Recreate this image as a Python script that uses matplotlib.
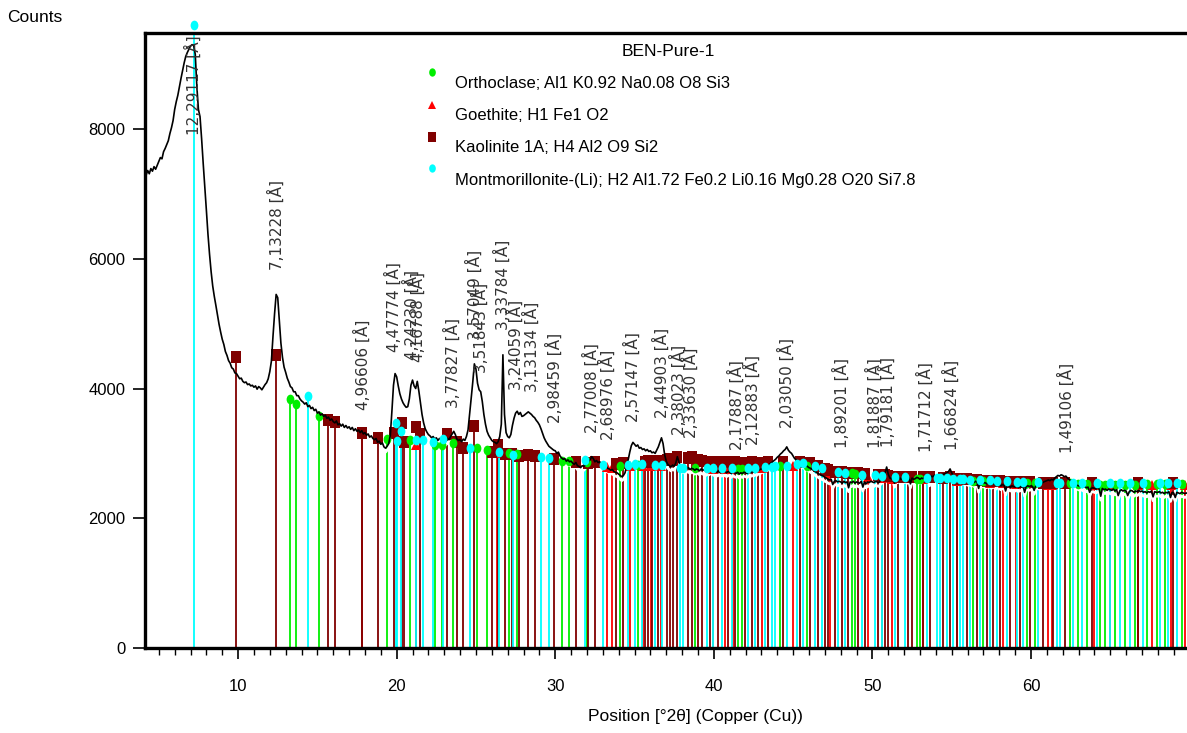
import numpy as np
import matplotlib
matplotlib.use("Agg")
import matplotlib.pyplot as plt
from matplotlib.markers import MarkerStyle
from matplotlib.transforms import Affine2D

UI_FONT = ["Liberation Sans", "DejaVu Sans"]
plt.rcParams["font.family"] = UI_FONT

# ---------------- measured pattern (counts every 0.1 deg, one row per degree, row starts at start_deg) -------------
start_deg = 4
pattern_rows = [
    [7300, 7330, 7290, 7360, 7310, 7390, 7350, 7420, 7380, 7440],
    [7500, 7560, 7540, 7650, 7700, 7760, 7820, 7930, 8020, 8130],
    [8300, 8420, 8520, 8650, 8780, 8900, 9020, 9120, 9180, 9230],
    [9280, 9300, 9290, 9150, 8650, 8300, 8190, 7850, 7470, 7120],
    [6750, 6380, 6070, 5800, 5580, 5420, 5280, 5130, 4990, 4870],
    [4760, 4680, 4570, 4510, 4430, 4390, 4320, 4300, 4240, 4230],
    [4190, 4150, 4160, 4110, 4090, 4100, 4060, 4070, 4040, 4050],
    [4020, 4040, 3990, 4030, 4010, 3980, 4020, 4060, 4090, 4150],
    [4260, 4420, 4800, 5150, 5450, 5400, 5050, 4700, 4480, 4330],
    [4250, 4160, 4100, 4030, 4010, 3950, 3950, 3890, 3890, 3840],
    [3810, 3790, 3760, 3780, 3720, 3740, 3690, 3710, 3660, 3680],
    [3620, 3640, 3590, 3610, 3570, 3590, 3540, 3560, 3510, 3530],
    [3490, 3470, 3500, 3440, 3460, 3420, 3450, 3400, 3430, 3390],
    [3410, 3370, 3400, 3350, 3380, 3340, 3360, 3320, 3350, 3300],
    [3320, 3280, 3300, 3250, 3270, 3230, 3210, 3230, 3170, 3190],
    [3140, 3160, 3100, 3080, 3110, 3150, 3280, 3650, 4050, 4230],
    [4180, 4040, 3920, 3840, 3780, 3740, 3710, 3720, 3840, 4050],
    [4130, 4040, 4000, 4110, 3960, 3780, 3600, 3470, 3380, 3330],
    [3290, 3270, 3240, 3260, 3220, 3240, 3200, 3230, 3210, 3190],
    [3220, 3190, 3230, 3210, 3260, 3300, 3340, 3290, 3220, 3200],
    [3210, 3180, 3220, 3200, 3260, 3360, 3600, 3850, 4100, 4380],
    [4300, 4080, 3980, 3950, 3800, 3600, 3450, 3340, 3280, 3240],
    [3200, 3180, 3170, 3150, 3180, 3260, 3450, 4520, 3600, 3320],
    [3260, 3240, 3290, 3430, 3540, 3620, 3650, 3600, 3630, 3570],
    [3580, 3600, 3620, 3640, 3620, 3600, 3570, 3550, 3510, 3480],
    [3440, 3380, 3310, 3240, 3190, 3150, 3110, 3090, 3070, 3050],
    [3040, 3000, 3020, 2960, 2930, 2910, 2920, 2880, 2900, 2870],
    [2880, 2850, 2830, 2860, 2810, 2800, 2780, 2810, 2800, 2830],
    [2850, 2880, 2900, 2950, 2920, 2870, 2890, 2860, 2870, 2850],
    [2820, 2800, 2810, 2770, 2760, 2740, 2750, 2720, 2710, 2700],
    [2680, 2660, 2640, 2660, 2700, 2800, 2900, 3020, 3120, 3170],
    [3140, 3110, 3130, 3080, 3090, 3060, 3070, 3040, 3060, 3030],
    [3040, 3010, 3020, 3000, 3050, 3100, 3170, 3240, 3150, 2980],
    [2880, 2830, 2810, 2790, 2820, 2800, 2850, 2950, 2870, 2790],
    [2780, 2760, 2790, 2770, 2780, 2750, 2770, 2760, 2740, 2760],
    [2750, 2730, 2760, 2740, 2750, 2720, 2740, 2730, 2750, 2740],
    [2720, 2740, 2710, 2730, 2700, 2720, 2710, 2730, 2700, 2720],
    [2710, 2690, 2720, 2700, 2690, 2710, 2680, 2700, 2690, 2710],
    [2700, 2690, 2710, 2700, 2720, 2710, 2730, 2720, 2740, 2750],
    [2760, 2770, 2780, 2790, 2800, 2830, 2850, 2870, 2890, 2910],
    [2940, 2960, 2990, 3010, 3040, 3060, 3100, 3050, 3020, 3000],
    [2960, 2920, 2900, 2880, 2860, 2850, 2840, 2830, 2810, 2800],
    [2780, 2770, 2750, 2740, 2720, 2700, 2690, 2670, 2660, 2650],
    [2630, 2620, 2600, 2590, 2600, 2520, 2570, 2580, 2560, 2570],
    [2560, 2540, 2570, 2550, 2560, 2470, 2560, 2550, 2570, 2540],
    [2560, 2550, 2540, 2570, 2480, 2560, 2530, 2560, 2550, 2570],
    [2560, 2550, 2570, 2560, 2550, 2580, 2600, 2650, 2700, 2790],
    [2680, 2620, 2610, 2630, 2540, 2620, 2610, 2630, 2600, 2620],
    [2610, 2620, 2600, 2630, 2530, 2620, 2600, 2610, 2630, 2620],
    [2600, 2620, 2610, 2630, 2620, 2640, 2560, 2650, 2640, 2660],
    [2650, 2640, 2660, 2650, 2670, 2680, 2690, 2700, 2720, 2760],
    [2700, 2660, 2640, 2620, 2610, 2600, 2590, 2600, 2580, 2590],
    [2570, 2580, 2560, 2570, 2550, 2570, 2560, 2460, 2560, 2550],
    [2540, 2550, 2530, 2550, 2540, 2520, 2540, 2530, 2510, 2530],
    [2520, 2500, 2520, 2510, 2420, 2510, 2500, 2480, 2500, 2490],
    [2480, 2500, 2470, 2490, 2480, 2500, 2400, 2490, 2500, 2490],
    [2500, 2490, 2430, 2500, 2520, 2510, 2530, 2540, 2560, 2570],
    [2580, 2590, 2580, 2600, 2590, 2620, 2640, 2660, 2650, 2670],
    [2660, 2640, 2650, 2620, 2600, 2580, 2560, 2540, 2530, 2510],
    [2500, 2490, 2500, 2480, 2490, 2470, 2480, 2400, 2460, 2470],
    [2460, 2450, 2470, 2450, 2340, 2460, 2440, 2450, 2430, 2450],
    [2440, 2430, 2450, 2420, 2440, 2350, 2420, 2440, 2420, 2430],
    [2420, 2350, 2410, 2430, 2420, 2400, 2420, 2410, 2430, 2410],
    [2420, 2400, 2410, 2390, 2410, 2400, 2420, 2330, 2410, 2400],
    [2400, 2410, 2390, 2400, 2380, 2400, 2390, 2410, 2320, 2400],
    [2390, 2320, 2400, 2390, 2380, 2400, 2390, 2380, 2390, 2380],
]

# ---------------- reference phases: stick positions (deg 2theta) and marker heights (counts) ----------------
phase_names = [
    "Orthoclase; Al1 K0.92 Na0.08 O8 Si3",
    "Goethite; H1 Fe1 O2",
    "Kaolinite 1A; H4 Al2 O9 Si2",
    "Montmorillonite-(Li); H2 Al1.72 Fe0.2 Li0.16 Mg0.28 O20 Si7.8",
]

ortho_pos = [13.26, 13.65, 15.10, 19.41, 20.86, 22.39, 22.87, 23.54, 25.04, 25.69,
             27.09, 27.57, 30.42, 30.85, 32.03, 34.09, 35.24, 38.81, 41.55, 41.76,
             44.17, 45.86, 48.69, 48.90, 52.79, 53.00, 56.36, 56.99, 59.73, 60.25,
             62.46, 62.98, 63.51, 64.35, 64.67, 65.30, 65.93, 66.56, 67.30, 67.93,
             68.45, 69.50]
ortho_h = [3840, 3765, 3570, 3220, 3207, 3130, 3130, 3160, 3084, 3053,
           3007, 2990, 2885, 2885, 2860, 2810, 2820, 2780, 2760, 2760,
           2800, 2800, 2690, 2680, 2610, 2610, 2580, 2580, 2550, 2540,
           2540, 2530, 2530, 2520, 2520, 2515, 2520, 2520, 2525, 2525,
           2525, 2525]

goethite_pos = [17.80, 21.24, 26.35, 33.24, 33.56, 34.70, 35.55, 36.05, 36.65, 39.98,
                40.71, 41.20, 43.02, 45.01, 47.30, 49.74, 50.62, 51.22, 53.22, 55.35,
                57.42, 58.25, 59.05, 61.09, 61.35, 63.95, 64.98, 66.75, 67.61, 68.80,
                69.71]
goethite_h = [3300, 3130, 3000, 2790, 2780, 2800, 2800, 2800, 2800, 2760,
              2760, 2760, 2770, 2800, 2700, 2640, 2620, 2600, 2600, 2570,
              2550, 2540, 2530, 2520, 2520, 2510, 2510, 2510, 2515, 2510,
              2515]

kaol_pos = [9.88, 12.42, 15.67, 16.12, 17.82, 18.85, 19.84, 20.34, 20.47, 21.22,
            21.48, 23.18, 23.81, 24.19, 24.88, 26.02, 26.39, 26.83, 27.28, 27.72,
            28.29, 28.73, 29.92, 31.31, 32.07, 32.51, 33.83, 34.29, 35.66, 35.87,
            36.08, 36.50, 37.03, 37.24, 37.45, 37.66, 38.39, 38.61, 39.03, 39.24,
            39.76, 40.28, 40.91, 41.34, 41.97, 42.39, 42.81, 43.44, 44.38, 45.43,
            46.07, 46.59, 47.01, 47.22, 47.64, 48.06, 48.48, 49.11, 49.53, 50.37,
            50.79, 51.00, 51.63, 52.26, 52.48, 53.21, 53.63, 54.47, 54.89, 55.31,
            55.94, 56.57, 57.21, 57.62, 58.05, 58.68, 59.31, 59.94, 60.78, 61.41,
            62.14, 63.83, 66.77, 68.98]
kaol_h = [4490, 4520, 3515, 3480, 3315, 3238, 3315, 3470, 3176, 3408,
          3300, 3300, 3176, 3084, 3423, 3022, 3130, 2991, 2991, 2960,
          2976, 2960, 2915, 2868, 2853, 2868, 2830, 2850, 2870, 2880,
          2860, 2880, 2900, 2920, 2900, 2940, 2930, 2950, 2900, 2880,
          2870, 2870, 2860, 2860, 2850, 2860, 2850, 2860, 2870, 2870,
          2850, 2800, 2760, 2740, 2720, 2720, 2700, 2690, 2680, 2670,
          2660, 2650, 2640, 2640, 2640, 2640, 2640, 2620, 2630, 2610,
          2600, 2590, 2580, 2580, 2570, 2560, 2560, 2555, 2545, 2545,
          2545, 2540, 2540, 2540]

mont_pos = [7.23, 14.44, 19.96, 20.03, 20.28, 21.22, 21.66, 22.29, 22.93, 24.63,
            26.46, 27.34, 29.09, 29.61, 31.88, 33.01, 34.61, 35.03, 35.45, 36.29,
            36.71, 37.87, 38.08, 39.55, 39.97, 40.50, 41.13, 42.18, 42.60, 43.23,
            43.65, 43.86, 44.60, 45.23, 45.64, 46.38, 46.80, 47.85, 48.27, 49.33,
            50.16, 50.59, 51.43, 52.06, 53.42, 54.05, 54.26, 54.68, 55.10, 55.52,
            55.73, 56.15, 56.78, 57.41, 57.84, 58.47, 59.10, 59.52, 60.46, 61.62,
            61.83, 62.67, 63.20, 64.14, 64.98, 65.61, 66.24, 67.09, 68.14, 68.66,
            69.19]
mont_h = [9600, 3885, 3470, 3192, 3346, 3207, 3207, 3176, 3223, 3084,
          3022, 2976, 2950, 2930, 2899, 2822, 2822, 2830, 2830, 2822,
          2822, 2776, 2776, 2776, 2776, 2776, 2776, 2776, 2776, 2790,
          2790, 2800, 2806, 2830, 2853, 2800, 2770, 2720, 2700, 2668,
          2660, 2652, 2640, 2630, 2621, 2621, 2621, 2615, 2610, 2600,
          2600, 2595, 2590, 2585, 2580, 2570, 2565, 2560, 2555, 2550,
          2550, 2550, 2548, 2545, 2545, 2545, 2545, 2545, 2545, 2545,
          2545]

# ---------------- peak labels (d-spacing text) and the count level of each label's base ----------------
peak_d = ["12,29117", "7,13228", "4,96606", "4,47774", "4,24230", "4,16788", "3,77827",
          "3,57049", "3,51843", "3,33784", "3,24059", "3,13134", "2,98459", "2,77008",
          "2,68976", "2,57147", "2,44903", "2,38023", "2,33630", "2,17887", "2,12883",
          "2,03050", "1,89201", "1,81887", "1,79181", "1,71712", "1,66824", "1,49106"]
label_base = [7910, 5830, 3670, 4560, 4440, 4410, 3700, 4750, 4240, 4900, 3980, 3950,
              3470, 3315, 3207, 3485, 3547, 3285, 3238, 3053, 3130, 3392, 3084, 3084,
              3099, 3022, 3053, 3007]
wavelength = 1.5406  # Cu K-alpha1, Angstrom

y_ticks = [0, 2000, 4000, 6000, 8000]
x_ticks = [10, 20, 30, 40, 50, 60]

# ---------------- figure ----------------
W, H = 1187, 733
fig = plt.figure(figsize=(W / 100, H / 100), dpi=100)
ax = fig.add_axes([145 / W, 1 - 648 / H, (W - 145) / W, (648 - 33) / H])

x_pat = np.concatenate([start_deg + i + 0.1 * np.arange(len(r)) for i, r in enumerate(pattern_rows)])
y_pat = np.concatenate([np.array(r, dtype=float) for r in pattern_rows])

phase_data = [(ortho_pos, ortho_h), (goethite_pos, goethite_h), (kaol_pos, kaol_h), (mont_pos, mont_h)]
phase_colors = ["#00ee00", "#ff0000", "#800000", "#00ffff"]
ell = Affine2D().scale(0.8, 1.0)
phase_markers = [MarkerStyle("o", transform=ell), MarkerStyle("^"),
                 MarkerStyle("s", transform=Affine2D().scale(0.85, 1.0)), MarkerStyle("o", transform=ell)]
marker_sizes = [7, 7, 8, 7]
marker_z = [3.3, 3.0, 3.1, 5.0]

# sticks
for i, ((pos, hh), col) in enumerate(zip(phase_data, phase_colors)):
    ax.vlines(pos, 0, hh, colors=col, lw=1.3, zorder=1 + 0.1 * i)

# background trace drawn in white under the measured pattern
bg_mask = x_pat >= 19
ax.plot(x_pat[bg_mask], y_pat[bg_mask] - 60, color="white", lw=2.0, zorder=2.5)

# markers
for i, ((pos, hh), col) in enumerate(zip(phase_data, phase_colors)):
    ax.plot(pos, hh, linestyle="none", marker=phase_markers[i], ms=marker_sizes[i],
            mfc=col, mec=col, mew=0, zorder=marker_z[i], clip_on=False)

# measured pattern
ax.plot(x_pat, y_pat, color="black", lw=1.2, zorder=4)

# peak labels
for d_txt, base in zip(peak_d, label_base):
    d = float(d_txt.replace(",", "."))
    tt = 2 * np.degrees(np.arcsin(wavelength / (2 * d)))
    ax.text(tt, base, f"{d_txt} [Å]", rotation=90, ha="center", va="bottom",
            fontsize=11, color="#333333", family=["DejaVu Sans"], zorder=6)

ax.set_xlim(4.13, 69.84)
ax.set_ylim(0, 9480)

ax.set_xticks(x_ticks)
ax.set_xticks(np.arange(5, 70, 1), minor=True)
ax.set_yticks(y_ticks)
ax.set_yticklabels([str(v) for v in y_ticks])
ax.tick_params(axis="x", which="major", direction="out", length=8, width=1.2, labelsize=12, pad=14)
ax.tick_params(axis="x", which="minor", direction="out", length=5, width=1.0)
ax.tick_params(axis="y", which="major", direction="out", length=9, width=1.2, labelsize=12, pad=5)

for s in ["left", "bottom", "top"]:
    ax.spines[s].set_linewidth(2.4)
    ax.spines[s].set_color("black")
ax.spines["right"].set_visible(False)

# title and legend (manual, inside plot)
ax.text((668 - 145) / (W - 145), (648 - 52) / 615, "BEN-Pure-1", transform=ax.transAxes,
        ha="center", va="center", fontsize=12.5)
leg_marker_y = [72, 105, 137, 168]
leg_text_y = [83, 115, 147, 180]
for i, name in enumerate(phase_names):
    ax.plot([(432 - 145) / (W - 145)], [(648 - leg_marker_y[i]) / 615], transform=ax.transAxes,
            linestyle="none", marker=phase_markers[i], ms=marker_sizes[i] - 1,
            mfc=phase_colors[i], mec=phase_colors[i], mew=0, clip_on=False, zorder=7)
    ax.text((455 - 145) / (W - 145), (648 - leg_text_y[i]) / 615, name, transform=ax.transAxes,
            ha="left", va="center", fontsize=12, zorder=7)

fig.text(35 / W, 1 - 17 / H, "Counts", ha="center", va="center", fontsize=12.5)
fig.text(695 / W, 1 - 717 / H, "Position [°2θ] (Copper (Cu))", ha="center", va="center", fontsize=12.5)

fig.savefig("out.png", dpi=100)
